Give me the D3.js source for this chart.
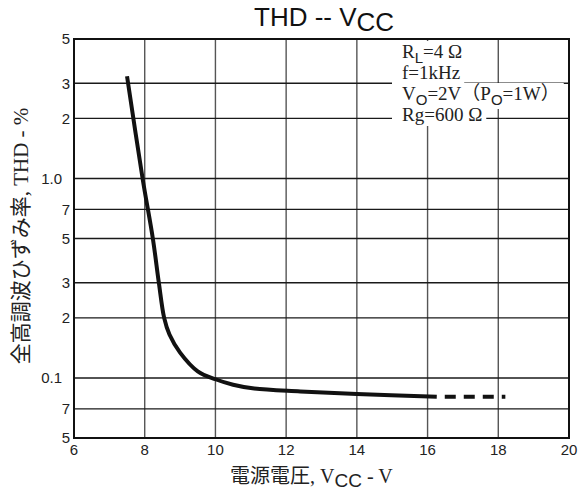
<!DOCTYPE html>
<html lang="ja">
<head>
<meta charset="utf-8">
<script src="https://cdn.jsdelivr.net/npm/d3@7"></script>
<style>
  body { margin: 0; background: #fff; }
  .tick-label { font: 15px "Liberation Sans", Arial, sans-serif; fill: #222; }
  .serif { font-family: "Liberation Serif", "Noto Sans CJK JP", serif; fill: #222; }
  .sans { font-family: "Liberation Sans", Arial, sans-serif; }
</style>
</head>
<body>
<script>
// THD vs supply voltage (solid measured part, dashed extension)
var vccSolid = [7.5, 7.94, 8.23, 8.40, 8.55, 8.7, 9.0, 9.5, 10.0, 10.5, 11.1, 12.4, 14.0, 16.26];
var thdSolid = [3.25, 1.0, 0.5, 0.3, 0.2, 0.165, 0.134, 0.108, 0.0985, 0.0925, 0.0885, 0.0856, 0.083, 0.0806];
var vccDashed = [16.26, 18.2];
var thdDashed = [0.0806, 0.0806];

var xTicks = [6, 8, 10, 12, 14, 16, 18, 20];
var yTicks = [5, 3, 2, 1, 0.7, 0.5, 0.3, 0.2, 0.1, 0.07, 0.05];
var yTickLabels = ["5", "3", "2", "1.0", "7", "5", "3", "2", "0.1", "7", "5"];

var conditions = [
  [["R", ""], ["L", "sub"], ["=4 \u03a9", ""]],
  [["f=1kHz", ""]],
  [["V", ""], ["O", "sub"], ["=2V\uff08P", ""], ["O", "sub"], ["=1W\uff09", ""]],
  [["Rg=600 \u03a9", ""]]
];

var w = 579, h = 492;
var pLeft = 74, pTop = 39, pRight = 569, pBottom = 438;

var svg = d3.select("body").append("svg")
  .attr("width", w)
  .attr("height", h);

var x = d3.scaleLinear().domain([6, 20]).range([pLeft, pRight]);
var y = d3.scaleLog().domain([0.05, 5]).range([pBottom, pTop]);

// grid
svg.append("g")
  .selectAll("line")
  .data(xTicks.slice(1, -1))
  .enter().append("line")
  .attr("x1", function(d) { return x(d); })
  .attr("x2", function(d) { return x(d); })
  .attr("y1", pTop).attr("y2", pBottom)
  .attr("stroke", "#555")
  .attr("stroke-width", 1.4);

svg.append("g")
  .selectAll("line")
  .data(yTicks.slice(1, -1))
  .enter().append("line")
  .attr("x1", pLeft).attr("x2", pRight)
  .attr("y1", function(d) { return y(d); })
  .attr("y2", function(d) { return y(d); })
  .attr("stroke", "#1a1a1a")
  .attr("stroke-width", 1.4);

// frame
svg.append("rect")
  .attr("x", pLeft).attr("y", pTop)
  .attr("width", pRight - pLeft).attr("height", pBottom - pTop)
  .attr("fill", "none")
  .attr("stroke", "#111")
  .attr("stroke-width", 2);

// tick labels
svg.append("g")
  .selectAll("text")
  .data(xTicks)
  .enter().append("text")
  .attr("class", "tick-label")
  .attr("x", function(d) { return x(d); })
  .attr("y", pBottom + 17)
  .attr("text-anchor", "middle")
  .text(function(d) { return d; });

svg.append("g")
  .selectAll("text")
  .data(yTicks)
  .enter().append("text")
  .attr("class", "tick-label")
  .attr("x", function(d, i) { return yTickLabels[i].length > 1 ? pLeft - 12 : pLeft - 4; })
  .attr("y", function(d) { return y(d); })
  .attr("dy", "0.36em")
  .attr("text-anchor", "end")
  .text(function(d, i) { return yTickLabels[i]; });

// conditions: white patches first, then the text on top
var patchG = svg.append("g");
var condG = svg.append("g");
conditions.forEach(function(parts, i) {
  var t = condG.append("text")
    .attr("class", "serif")
    .attr("x", 402)
    .attr("y", 58 + i * 21)
    .attr("font-size", 19);
  parts.forEach(function(p, j) {
    var s = t.append("tspan").text(p[0]);
    if (p[1] == "sub") {
      s.attr("class", "sans").attr("font-size", 15).attr("dy", 5);
    } else if (j > 0) {
      s.attr("dy", -5);
    }
  });
  var b = t.node().getBBox();
  patchG.append("rect")
    .attr("x", b.x - 10)
    .attr("y", b.y)
    .attr("width", b.width + 14)
    .attr("height", b.height + 1)
    .attr("fill", "#fff");
});

// curve
var line = d3.line()
  .x(function(d) { return x(d[0]); })
  .y(function(d) { return y(d[1]); })
  .curve(d3.curveCatmullRom.alpha(0.5));

svg.append("path")
  .datum(d3.zip(vccSolid, thdSolid))
  .attr("d", line)
  .attr("fill", "none")
  .attr("stroke", "#111")
  .attr("stroke-width", 4);

svg.append("path")
  .datum(d3.zip(vccDashed, thdDashed))
  .attr("d", line)
  .attr("fill", "none")
  .attr("stroke", "#111")
  .attr("stroke-width", 4)
  .attr("stroke-dasharray", "11,8")
  .attr("stroke-dashoffset", 11);

// title
var title = svg.append("text")
  .attr("class", "sans")
  .attr("x", 254)
  .attr("y", 26)
  .attr("font-size", 26)
  .attr("fill", "#111");
title.append("tspan").text("THD -- V");
title.append("tspan").attr("dy", 5).text("CC");

// x label
var xl = svg.append("text")
  .attr("class", "serif")
  .attr("x", 230)
  .attr("y", 483)
  .attr("font-size", 20);
xl.append("tspan").text("\u96fb\u6e90\u96fb\u5727, V");
xl.append("tspan").attr("class", "sans").attr("font-size", 19).attr("dy", 4).text("CC");
xl.append("tspan").attr("dy", -4).text(" - V");

// y label
svg.append("text")
  .attr("class", "serif")
  .attr("transform", "translate(21," + 236 + ") rotate(-90)")
  .attr("text-anchor", "middle")
  .attr("dominant-baseline", "central")
  .attr("font-size", 21)
  .text("\u5168\u9ad8\u8abf\u6ce2\u3072\u305a\u307f\u7387, THD - %");
</script>
</body>
</html>
